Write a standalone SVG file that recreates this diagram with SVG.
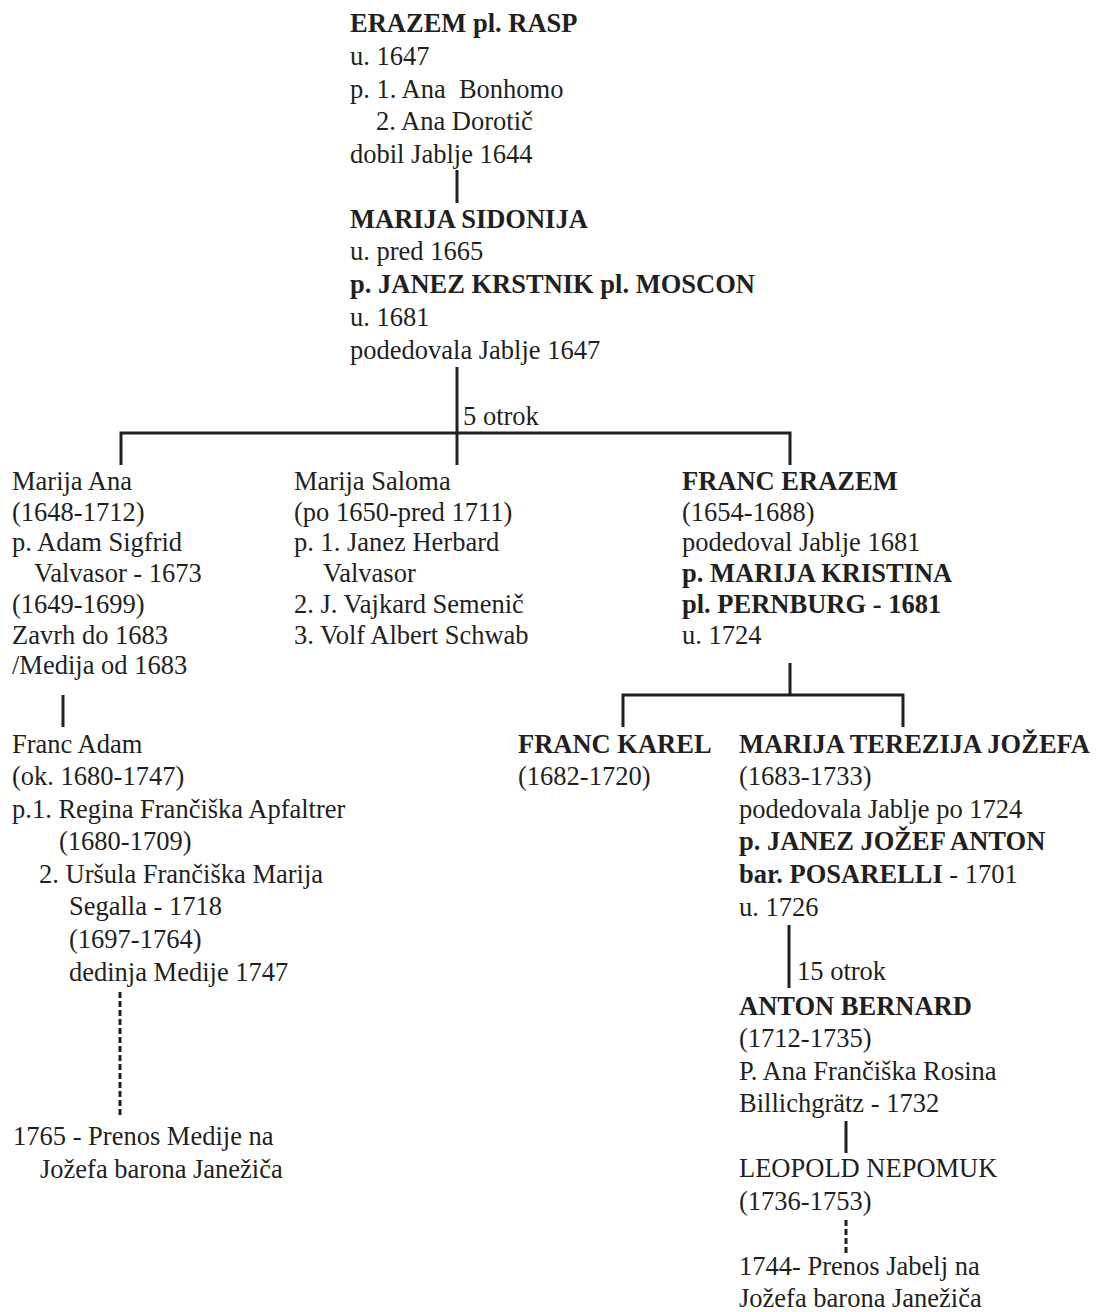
<svg xmlns="http://www.w3.org/2000/svg" width="1097" height="1312" viewBox="0 0 1097 1312">
<style>
text{font-family:"Liberation Serif","Times New Roman",serif;font-size:26.5px;fill:#231f20}
.b{font-weight:bold}
.ln{stroke:#231f20;stroke-width:3;fill:none}
.dash{stroke-dasharray:6 3}
</style>
<rect width="1097" height="1312" fill="#fff"/>
<g id="connectors">
<line class="ln" x1="457" y1="170" x2="457" y2="203"/>
<line class="ln" x1="457" y1="367" x2="457" y2="465"/>
<polyline class="ln" points="121,465 121,433 790,433 790,465"/>
<line class="ln" x1="63" y1="695" x2="63" y2="727"/>
<line class="ln" x1="790" y1="663" x2="790" y2="695"/>
<polyline class="ln" points="623,727 623,695 903,695 903,727"/>
<line class="ln dash" x1="120" y1="992" x2="120" y2="1118"/>
<line class="ln" x1="789" y1="925" x2="789" y2="988"/>
<line class="ln" x1="846" y1="1121" x2="846" y2="1153"/>
<line class="ln dash" x1="846" y1="1220" x2="846" y2="1253"/>
<text x="463" y="425">5 otrok</text>
<text x="797" y="980">15 otrok</text>
</g>
<g id="erazem">
<text x="350" y="32" class="b">ERAZEM pl. RASP</text>
<text x="350" y="65">u. 1647</text>
<text x="350" y="98" xml:space="preserve">p. 1. Ana  Bonhomo</text>
<text x="376" y="130">2. Ana Dorotič</text>
<text x="350" y="163">dobil Jablje 1644</text>
</g>
<g id="marija-sidonija">
<text x="350" y="228" class="b">MARIJA SIDONIJA</text>
<text x="350" y="260">u. pred 1665</text>
<text x="350" y="293" class="b">p. JANEZ KRSTNIK pl. MOSCON</text>
<text x="350" y="326">u. 1681</text>
<text x="350" y="359">podedovala Jablje 1647</text>
</g>
<g id="marija-ana">
<text x="12" y="490">Marija Ana</text>
<text x="12" y="520.7">(1648-1712)</text>
<text x="12" y="551.4">p. Adam Sigfrid</text>
<text x="34" y="582">Valvasor - 1673</text>
<text x="12" y="612.8">(1649-1699)</text>
<text x="12" y="643.5">Zavrh do 1683</text>
<text x="12" y="674.2">/Medija od 1683</text>
</g>
<g id="marija-saloma">
<text x="294" y="490">Marija Saloma</text>
<text x="294" y="520.7">(po 1650-pred 1711)</text>
<text x="294" y="551.4">p. 1. Janez Herbard</text>
<text x="323" y="582">Valvasor</text>
<text x="294" y="612.8">2. J. Vajkard Semenič</text>
<text x="294" y="643.5">3. Volf Albert Schwab</text>
</g>
<g id="franc-erazem">
<text x="682" y="490" class="b">FRANC ERAZEM</text>
<text x="682" y="520.7">(1654-1688)</text>
<text x="682" y="551.4">podedoval Jablje 1681</text>
<text x="682" y="582" class="b">p. MARIJA KRISTINA</text>
<text x="682" y="612.8" class="b">pl. PERNBURG - 1681</text>
<text x="682" y="643.5">u. 1724</text>
</g>
<g id="franc-adam">
<text x="12" y="753">Franc Adam</text>
<text x="12" y="785.3">(ok. 1680-1747)</text>
<text x="12" y="817.6">p.1. Regina Frančiška Apfaltrer</text>
<text x="59" y="850">(1680-1709)</text>
<text x="39" y="882.6">2. Uršula Frančiška Marija</text>
<text x="69" y="915">Segalla - 1718</text>
<text x="69" y="947.6">(1697-1764)</text>
<text x="69" y="980.5">dedinja Medije 1747</text>
</g>
<g id="prenos-medije">
<text x="13" y="1145">1765 - Prenos Medije na</text>
<text x="40" y="1177.6">Jožefa barona Janežiča</text>
</g>
<g id="franc-karel">
<text x="518" y="753" class="b">FRANC KAREL</text>
<text x="518" y="785.3">(1682-1720)</text>
</g>
<g id="marija-terezija">
<text x="739" y="753" class="b">MARIJA TEREZIJA JOŽEFA</text>
<text x="739" y="785.3">(1683-1733)</text>
<text x="739" y="817.6">podedovala Jablje po 1724</text>
<text x="739" y="850" class="b">p. JANEZ JOŽEF ANTON</text>
<text x="739" y="883"><tspan class="b">bar. POSARELLI</tspan> - 1701</text>
<text x="739" y="915.5">u. 1726</text>
</g>
<g id="anton-bernard">
<text x="739" y="1015" class="b">ANTON BERNARD</text>
<text x="739" y="1047">(1712-1735)</text>
<text x="739" y="1080">P. Ana Frančiška Rosina</text>
<text x="739" y="1112">Billichgrätz - 1732</text>
</g>
<g id="leopold-nepomuk">
<text x="739" y="1177">LEOPOLD NEPOMUK</text>
<text x="739" y="1210">(1736-1753)</text>
</g>
<g id="prenos-jabelj">
<text x="739" y="1275">1744- Prenos Jabelj na</text>
<text x="739" y="1307">Jožefa barona Janežiča</text>
</g>
</svg>
